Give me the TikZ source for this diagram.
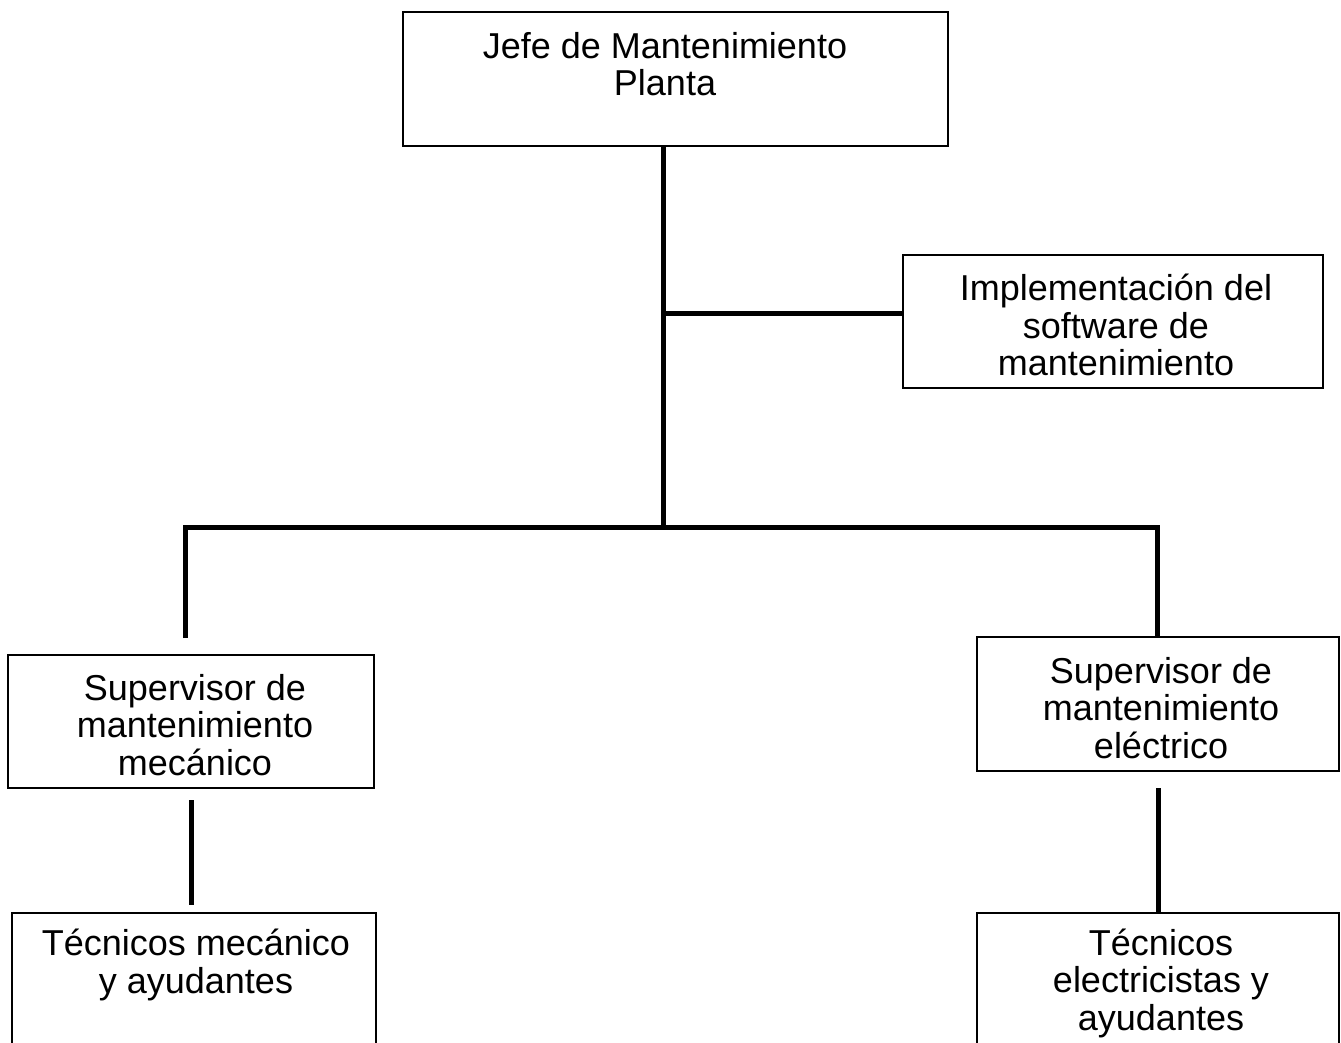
\documentclass[tikz,border=0pt]{standalone}
\usepackage{fontspec}
\setmainfont{Liberation Sans}
\begin{document}
\begin{tikzpicture}[x=1pt,y=-1pt,
  box/.style={draw, line width=2pt, inner sep=0pt},
  lbl/.style={align=center, font=\fontsize{36}{37.5}\selectfont, inner sep=0pt},
  conn/.style={line width=5pt}]
\useasboundingbox (0,0) rectangle (1341,1043);
\clip (0,0) rectangle (1341,1043);
% boxes
\node[box, minimum width=545pt, minimum height=134pt] (jefe) at (675.5,79) {};
\node[box, minimum width=420pt, minimum height=133pt] (soft) at (1113,321.5) {};
\node[box, minimum width=366pt, minimum height=133pt] (supM) at (191,721.5) {};
\node[box, minimum width=362pt, minimum height=134pt] (supE) at (1158,704) {};
\node[box, minimum width=364pt, minimum height=187pt] (tecM) at (194,1006.5) {};
\node[box, minimum width=362pt, minimum height=187pt] (tecE) at (1158,1006.5) {};
% texts
\node[lbl] (jefeT) at (665,64) {Jefe de Mantenimiento\\Planta};
\node[lbl] (softT) at (1116,325) {Implementación del\\software de\\mantenimiento};
\node[lbl] (supMT) at (195,725) {Supervisor de\\mantenimiento\\mecánico};
\node[lbl] (supET) at (1161,708) {Supervisor de\\mantenimiento\\eléctrico};
\node[lbl] (tecMT) at (196,965) {Técnicos mecánico\\y ayudantes};
\node[lbl] (tecET) at (1161,983) {Técnicos\\electricistas y\\ayudantes};
% connector points
\coordinate (bus) at (663,527);
\coordinate (brj) at (663,313);
\coordinate (dL) at (185,638);
\coordinate (dR) at (1157,636);
\coordinate (lcTop) at (191,800);
\coordinate (lcBot) at (191,905);
\coordinate (rcTop) at (1158,788);
\coordinate (rcBot) at (1158,912);
% connectors
\draw[conn] (jefe.south -| bus) -- (bus);
\draw[conn] (brj) -- (brj -| soft.west);
\draw[conn] (dL) -- (dL |- bus) -- (dR |- bus) -- (dR);
\draw[conn] (lcTop) -- (lcBot);
\draw[conn] (rcTop) -- (rcBot);
\end{tikzpicture}
\end{document}
